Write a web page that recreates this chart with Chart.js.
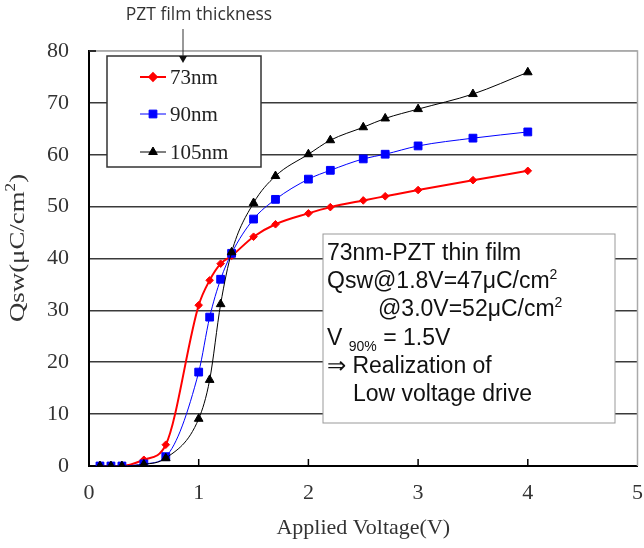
<!DOCTYPE html>
<html>
<head>
<meta charset="utf-8">
<script src="https://cdn.jsdelivr.net/npm/chart.js@4.4.0/dist/chart.umd.min.js"></script>
<style>
  html, body { margin: 0; padding: 0; background: #fff; }
  #wrap { width: 644px; height: 548px; position: relative; }
</style>
</head>
<body>
<div id="wrap"><canvas id="qswChart" width="644" height="548"></canvas></div>
<script>
// Qsw vs applied voltage for three PZT film thicknesses
var voltage = [0.1, 0.2, 0.3, 0.5, 0.7, 1.0, 1.1, 1.2, 1.3, 1.5, 1.7, 2.0, 2.2, 2.5, 2.7, 3.0, 3.5, 4.0];
var q73nm  = [0, 0, 0, 1.2, 4.1, 31.0, 35.8, 39.0, 40.5, 44.2, 46.6, 48.7, 49.9, 51.2, 52.0, 53.2, 55.1, 56.9];
var q90nm  = [0, 0, 0, 0.4, 1.8, 18.1, 28.7, 36.0, 41.0, 47.6, 51.4, 55.3, 57.0, 59.2, 60.1, 61.7, 63.2, 64.4];
var q105nm = [0, 0, 0, 0.3, 1.5, 9.1, 16.6, 31.2, 41.2, 50.7, 55.9, 60.1, 62.8, 65.3, 67.0, 68.8, 71.7, 75.9];
var seriesLabels = ['73nm', '90nm', '105nm'];
var xTicks = [0, 1, 2, 3, 4, 5];
var yTicks = [0, 10, 20, 30, 40, 50, 60, 70, 80];

var serif = "'Liberation Serif', 'Times New Roman', serif";
var sans = "'Liberation Sans', Arial, sans-serif";

function toPoints(ys) {
    return voltage.map(function (v, i) { return { x: v, y: ys[i] }; });
}

// legend box, title arrow, inside ticks, frame, y title, note box
var decorPlugin = {
    id: 'decor',
    afterDraw: function (chart) {
        var ctx = chart.ctx;
        var area = chart.chartArea;
        var xs = chart.scales.x, ys = chart.scales.y;
        ctx.save();

        // grey frame top / right
        ctx.strokeStyle = '#aaaaaa';
        ctx.lineWidth = 1.5;
        ctx.beginPath();
        ctx.moveTo(area.left, area.top);
        ctx.lineTo(area.right, area.top);
        ctx.lineTo(area.right, area.bottom);
        ctx.stroke();

        // inside tick marks
        ctx.strokeStyle = '#000';
        ctx.lineWidth = 1.5;
        ctx.beginPath();
        xTicks.slice(1, -1).forEach(function (t) {
            var px = xs.getPixelForValue(t);
            ctx.moveTo(px, area.bottom);
            ctx.lineTo(px, area.bottom - 7);
        });
        var py80 = ys.getPixelForValue(80);
        ctx.moveTo(area.left, py80);
        ctx.lineTo(area.left + 7, py80);
        ctx.stroke();

        // y axis title, slightly stretched like the original
        ctx.save();
        ctx.translate(17, 248);
        ctx.rotate(-Math.PI / 2);
        ctx.scale(1.22, 1);
        ctx.fillStyle = '#333';
        ctx.textBaseline = 'middle';
        var t1 = 'Qsw(\u03bcC/cm', t3 = ')';
        ctx.font = '22px ' + serif;
        var w1 = ctx.measureText(t1).width, w3 = ctx.measureText(t3).width;
        ctx.font = '14px ' + serif;
        var w2 = ctx.measureText('2').width;
        var x0 = -(w1 + w2 + w3) / 2;
        ctx.textAlign = 'left';
        ctx.font = '22px ' + serif;
        ctx.fillText(t1, x0, 1);
        ctx.font = '14px ' + serif;
        ctx.fillText('2', x0 + w1, -6);
        ctx.font = '22px ' + serif;
        ctx.fillText(t3, x0 + w1 + w2, 1);
        ctx.restore();

        // legend box
        var lx = 107, ly = 56, lw = 154, lh = 111;
        ctx.fillStyle = '#fff';
        ctx.fillRect(lx, ly, lw, lh);
        ctx.strokeStyle = '#333';
        ctx.lineWidth = 1.5;
        ctx.strokeRect(lx, ly, lw, lh);
        var rowY = [77, 114, 152];
        chart.data.datasets.forEach(function (ds, i) {
            var y = rowY[i];
            ctx.strokeStyle = ds.borderColor;
            ctx.lineWidth = ds.borderWidth;
            ctx.beginPath();
            ctx.moveTo(140, y);
            ctx.lineTo(166, y);
            ctx.stroke();
            ctx.fillStyle = ds.pointBackgroundColor;
            Chart.helpers.drawPoint(ctx, {
                pointStyle: ds.pointStyle, radius: ds.pointRadius,
                rotation: 0, borderWidth: 1
            }, 153, y);
            ctx.fillStyle = '#222';
            ctx.font = '21px ' + serif;
            ctx.textAlign = 'left';
            ctx.textBaseline = 'middle';
            ctx.fillText(ds.label, 170, y + 1);
        });

        // title with arrow
        ctx.fillStyle = '#333';
        ctx.font = "17.5px 'Open Sans', sans-serif";
        ctx.textAlign = 'center';
        ctx.textBaseline = 'middle';
        ctx.fillText('PZT film thickness', 199, 15);
        ctx.strokeStyle = '#333';
        ctx.lineWidth = 1;
        ctx.beginPath();
        ctx.moveTo(183, 29);
        ctx.lineTo(183, 58);
        ctx.stroke();
        ctx.fillStyle = '#111';
        ctx.beginPath();
        ctx.moveTo(179, 56);
        ctx.lineTo(187, 56);
        ctx.lineTo(183, 63);
        ctx.closePath();
        ctx.fill();

        // annotation box
        var bx = 323, by = 234, bw = 292, bh = 189;
        ctx.fillStyle = '#fff';
        ctx.fillRect(bx, by, bw, bh);
        ctx.strokeStyle = '#999';
        ctx.lineWidth = 1;
        ctx.strokeRect(bx, by, bw, bh);

        ctx.fillStyle = '#111';
        ctx.textAlign = 'left';
        ctx.textBaseline = 'alphabetic';
        var big = '23px ' + sans, small = '14px ' + sans;
        function runs(x, y, parts) {
            parts.forEach(function (p) {
                ctx.font = p[1] ? small : big;
                ctx.fillText(p[0], x, y + (p[1] || 0));
                x += ctx.measureText(p[0]).width;
            });
        }
        runs(327, 260, [['73nm-PZT thin film']]);
        runs(327, 288, [['Qsw@1.8V=47\u03bcC/cm'], ['2', -9]]);
        runs(378, 316, [['@3.0V=52\u03bcC/cm'], ['2', -9]]);
        runs(327, 345, [['V '], ['90%', 6], [' = 1.5V']]);
        runs(327, 373, [['\u21d2 Realization of']]);
        runs(353, 401, [['Low voltage drive']]);

        ctx.restore();
    }
};

new Chart(document.getElementById('qswChart'), {
    type: 'line',
    data: {
        datasets: [{
            label: seriesLabels[0],
            data: toPoints(q73nm),
            borderColor: '#ff0000',
            backgroundColor: '#ff0000',
            pointBackgroundColor: '#ff0000',
            borderWidth: 2,
            pointStyle: 'rectRot',
            pointRadius: 3.8,
            order: 3
        }, {
            label: seriesLabels[1],
            data: toPoints(q90nm),
            borderColor: '#0000ff',
            backgroundColor: '#0000ff',
            pointBackgroundColor: '#0000ff',
            borderWidth: 1,
            pointStyle: 'rect',
            pointRadius: 5.5,
            order: 2
        }, {
            label: seriesLabels[2],
            data: toPoints(q105nm),
            borderColor: '#000000',
            backgroundColor: '#000000',
            pointBackgroundColor: '#000000',
            borderWidth: 1,
            pointStyle: 'triangle',
            pointRadius: 5,
            order: 1
        }]
    },
    options: {
        responsive: false,
        animation: false,
        layout: { padding: { top: 51, right: 5, left: 0, bottom: 0 } },
        datasets: {
            line: { cubicInterpolationMode: 'monotone', pointBorderWidth: 1, fill: false }
        },
        plugins: { legend: { display: false }, tooltip: { enabled: false } },
        scales: {
            x: {
                type: 'linear',
                min: 0, max: 5,
                afterFit: function (s) { s.height = 82; s.paddingLeft = 0; s.paddingRight = 0; },
                afterBuildTicks: function (s) { s.ticks = xTicks.map(function (v) { return { value: v }; }); },
                grid: { display: false, drawTicks: false },
                border: { display: true, color: '#000', width: 2 },
                ticks: { color: '#333', padding: 14, font: { family: serif, size: 22 } },
                title: {
                    display: true, text: 'Applied Voltage(V)', color: '#333',
                    font: { family: serif, size: 22 }, padding: { top: 0, bottom: 7 }
                }
            },
            y: {
                min: 0, max: 80,
                afterFit: function (s) { s.width = 89; s.paddingTop = 0; s.paddingBottom = 0; },
                afterBuildTicks: function (s) { s.ticks = yTicks.map(function (v) { return { value: v }; }); },
                grid: {
                    drawTicks: false,
                    color: function (c) { return c.tick && c.tick.value === 80 ? '#aaaaaa' : '#3a3a3a'; },
                    lineWidth: 1.6
                },
                border: { display: true, color: '#000', width: 2 },
                ticks: { color: '#333', padding: 20, font: { family: serif, size: 22 } },
                title: { display: false }
            }
        }
    },
    plugins: [decorPlugin]
});
</script>
</body>
</html>
